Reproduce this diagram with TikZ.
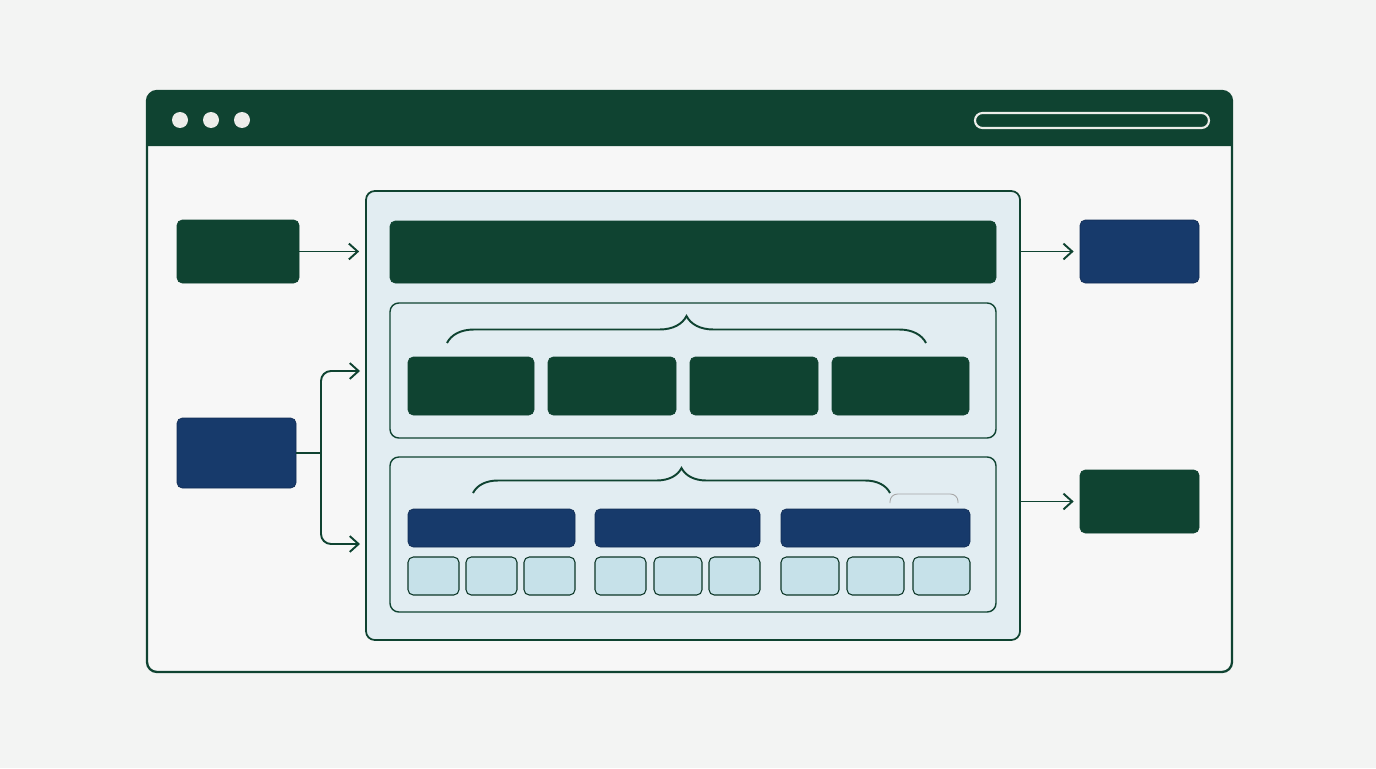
\documentclass[tikz,border=0pt]{standalone}
\usepackage{tikz}
\usetikzlibrary{arrows.meta, positioning, decorations.pathreplacing}
\definecolor{mydkgreen}{RGB}{15, 67, 49}
\definecolor{mynavy}{RGB}{23, 58, 107}
\definecolor{mypanel}{RGB}{226, 237, 242}
\definecolor{mycell}{RGB}{198, 225, 233}
\definecolor{mybg}{RGB}{243, 244, 243}
\definecolor{mydot}{RGB}{237, 237, 234}
\tikzset{
  greenbox/.style={
    rectangle, fill=mydkgreen, draw=mydkgreen, rounded corners=3pt,
    inner sep=0pt
  },
  navybox/.style={
    rectangle, fill=mynavy, draw=mynavy!80!black, rounded corners=3pt,
    inner sep=0pt
  },
  panelbox/.style={
    rectangle, fill=mypanel, draw=mydkgreen, rounded corners=5pt,
    line width=1pt, inner sep=0pt
  },
  cellbox/.style={
    rectangle, fill=mycell, draw=mydkgreen!80!black, rounded corners=3pt,
    line width=0.6pt, inner sep=0pt, minimum height=0.76cm
  },
  arrow/.style={
    -{Straight Barb[length=5pt, width=9pt]}, draw=mydkgreen, line width=1.1pt,
    shorten >=0.12cm
  },
  bracepath/.style={
    draw=mydkgreen, line width=1.1pt, decorate
  }
}

\begin{document}
\begin{tikzpicture}
  \fill[mybg] (0,0) rectangle (27.52,-15.36);
  \useasboundingbox (0,0) rectangle (27.52,-15.36);

  % browser window
  \draw[mydkgreen, line width=1.3pt, fill=mybg!70!white, rounded corners=0.2cm] (2.94,-1.82) rectangle (24.64,-13.44);
  \fill[mydkgreen] (2.94,-2.92) [rounded corners=0.2cm] -- (2.94,-1.82) -- (24.64,-1.82) [sharp corners] -- (24.64,-2.92) -- cycle;
  \foreach \x in {3.60, 4.22, 4.84}
    \fill[mydot] (\x,-2.40) circle (0.16);
  \node[draw=mydot, line width=1.2pt, rounded corners=0.15cm, minimum width=4.68cm, minimum height=0.30cm, inner sep=0pt] (urlbar) at (21.84,-2.41) {};

  % main panel
  \node[panelbox, minimum width=13.08cm, minimum height=8.98cm] (panel) at (13.86,-8.31) {};
  \node[greenbox, minimum width=12.12cm, minimum height=1.24cm] (header) at (13.86,-5.04) {};
  \node[panelbox, line width=0.8pt, minimum width=12.12cm, minimum height=2.70cm] (secA) at (13.86,-7.41) {};
  \node[panelbox, line width=0.8pt, minimum width=12.12cm, minimum height=3.10cm] (secB) at (13.86,-10.69) {};

  % upper group
  \node[greenbox, minimum width=2.52cm, minimum height=1.16cm] (blockA) at (9.42,-7.72) {};
  \node[greenbox, minimum width=2.56cm, minimum height=1.16cm] (blockB) at (12.24,-7.72) {};
  \node[greenbox, minimum width=2.56cm, minimum height=1.16cm] (blockC) at (15.08,-7.72) {};
  \node[greenbox, minimum width=2.74cm, minimum height=1.16cm] (blockD) at (18.01,-7.72) {};
  \draw[bracepath, decoration={brace, amplitude=0.54cm}] (8.94,-6.86) -- (18.52,-6.86);

  % lower group
  \node[navybox, minimum width=3.34cm, minimum height=0.76cm] (barA) at (9.83,-10.56) {};
  \node[navybox, minimum width=3.30cm, minimum height=0.76cm] (barB) at (13.55,-10.56) {};
  \node[navybox, minimum width=3.78cm, minimum height=0.76cm] (barC) at (17.51,-10.56) {};
  \foreach \x/\w [count=\i] in {8.67/1.02, 9.83/1.02, 10.99/1.02, 12.41/1.02, 13.56/0.96, 14.69/1.02, 16.20/1.16, 17.51/1.14, 18.83/1.14}
    \node[cellbox, minimum width=\w cm] (cell\i) at (\x,-11.52) {};
  \draw[bracepath, decoration={brace, amplitude=0.50cm}] (9.46,-9.86) -- (17.80,-9.86);
  \draw[gray!70, line width=0.5pt, rounded corners=0.15cm] (17.80,-10.06) -- (17.80,-9.88) -- (19.16,-9.88) -- (19.16,-10.06);

  % inputs and outputs
  \node[greenbox, minimum width=2.44cm, minimum height=1.26cm] (inA) at (4.76,-5.03) {};
  \node[navybox, minimum width=2.38cm, minimum height=1.40cm] (inB) at (4.73,-9.06) {};
  \node[navybox, minimum width=2.38cm, minimum height=1.26cm] (outA) at (22.79,-5.03) {};
  \node[greenbox, minimum width=2.38cm, minimum height=1.26cm] (outB) at (22.79,-10.03) {};

  \coordinate (fork) at (6.42,-9.06);
  \coordinate (forkup) at (7.32,-7.42);
  \coordinate (forkdown) at (7.32,-10.88);

  \draw[arrow] (inA) -- (inA -| panel.west);
  \draw[mydkgreen, line width=1.1pt] (inB) -- (fork);
  \draw[arrow, rounded corners=0.2cm] (fork) |- (forkup);
  \draw[arrow, rounded corners=0.2cm] (fork) |- (forkdown);
  \draw[arrow] (panel.east |- outA) -- (outA);
  \draw[arrow] (panel.east |- outB) -- (outB);
\end{tikzpicture}
\end{document}
